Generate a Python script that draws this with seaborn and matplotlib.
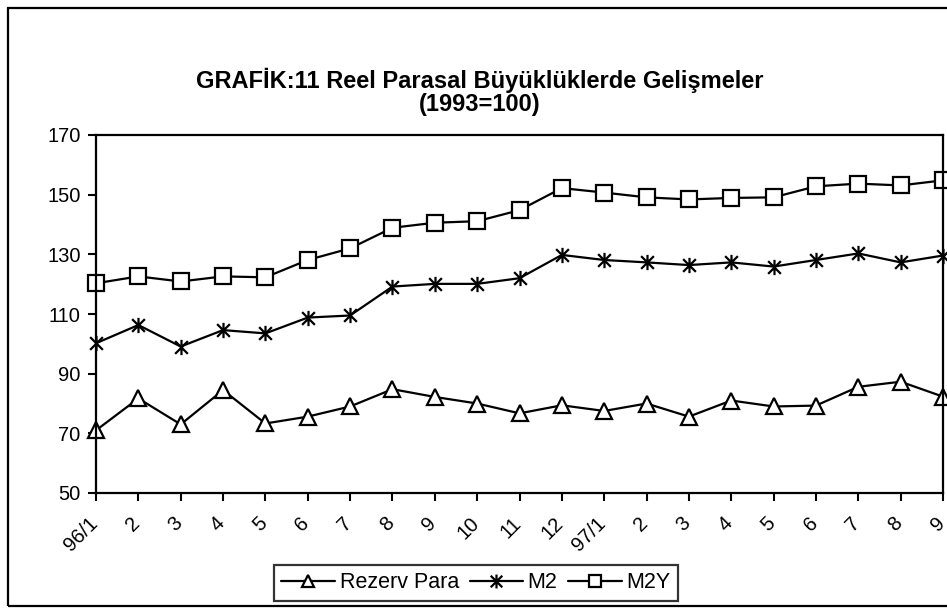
import matplotlib
matplotlib.use('Agg')
import matplotlib.pyplot as plt
import matplotlib.transforms as mtransforms
import seaborn as sns
from matplotlib.path import Path
from matplotlib.lines import Line2D
from matplotlib.patches import Rectangle

sns.set_style('white')
plt.rcParams['font.family'] = ['Liberation Sans', 'DejaVu Sans']
plt.rcParams['text.color'] = 'black'
plt.rcParams['xtick.color'] = 'black'
plt.rcParams['ytick.color'] = 'black'

# data (1993=100)
months = ['96/1', '2', '3', '4', '5', '6', '7', '8', '9', '10', '11', '12',
          '97/1', '2', '3', '4', '5', '6', '7', '8', '9']
rezerv_para = [71.0, 81.7, 73.0, 84.5, 73.3, 75.6, 79.0, 84.8, 82.2, 80.0, 76.7,
               79.4, 77.5, 80.0, 75.6, 81.0, 79.0, 79.3, 85.6, 87.3, 82.3]
m2 = [100.2, 106.3, 99.1, 104.6, 103.5, 108.8, 109.5, 119.2, 120.1, 120.1, 122.0,
      129.8, 128.1, 127.3, 126.4, 127.3, 125.9, 128.1, 130.3, 127.3, 129.6]
m2y = [120.3, 122.6, 120.9, 122.6, 122.3, 128.1, 132.0, 138.9, 140.6, 141.1, 144.8,
       152.2, 150.7, 149.1, 148.4, 148.9, 149.1, 152.8, 153.7, 153.1, 154.8]
xpos = list(range(len(months)))

# asterisk marker like the spreadsheet one
star = Path([(-1, -1), (1, 1), (-1, 1), (1, -1), (0, -1.2), (0, 1.2)],
            [Path.MOVETO, Path.LINETO, Path.MOVETO, Path.LINETO, Path.MOVETO, Path.LINETO])

fig = plt.figure(figsize=(9.47, 6.15), dpi=100)
ax = fig.add_axes([96 / 947, 1 - 493 / 615, (943 - 96) / 947, (493 - 135) / 615])

common = dict(color='black', linewidth=1.6, clip_on=False)
sns.lineplot(x=xpos, y=rezerv_para, ax=ax, marker='^', markersize=12,
             markerfacecolor='white', markeredgecolor='black', markeredgewidth=1.6, **common)
sns.lineplot(x=xpos, y=m2, ax=ax, marker=star, markersize=11,
             markeredgecolor='black', markeredgewidth=1.6, **common)
sns.lineplot(x=xpos, y=m2y, ax=ax, marker='s', markersize=11,
             markerfacecolor='white', markeredgecolor='black', markeredgewidth=1.6, **common)

ax.set_xlim(0, len(months) - 1)
ax.set_ylim(50, 170)
ax.set_yticks(range(50, 171, 20))
ax.set_xticks(xpos)
ax.set_xticklabels(months, rotation=45, ha='right', va='top', rotation_mode='anchor')
ax.tick_params(axis='both', labelsize=14.5, direction='out', length=6, width=1.5,
               color='black', left=True, bottom=True, pad=5)
ax.tick_params(axis='x', pad=9)
shift = mtransforms.ScaledTranslation(-8 / 100, 0, fig.dpi_scale_trans)
for lab in ax.get_xticklabels():
    lab.set_transform(lab.get_transform() + shift)
for s in ax.spines.values():
    s.set_visible(True)
    s.set_color('black')
    s.set_linewidth(1.6)
ax.grid(False)
ax.set_xlabel('')
ax.set_ylabel('')

fig.text(480 / 947, 1 - 80 / 615, 'GRAFİK:11 Reel Parasal Büyüklüklerde Gelişmeler',
         ha='center', va='center', fontsize=17, fontweight='bold')
fig.text(480 / 947, 1 - 105 / 615, '(1993=100)',
         ha='center', va='center', fontsize=17, fontweight='bold')

handles = [
    Line2D([], [], color='black', lw=1.6, marker='^', markersize=9,
           markerfacecolor='white', markeredgewidth=1.6),
    Line2D([], [], color='black', lw=1.6, marker=star, markersize=10, markeredgewidth=1.6),
    Line2D([], [], color='black', lw=1.6, marker='s', markersize=9,
           markerfacecolor='white', markeredgewidth=1.6),
]
leg = ax.legend(handles, ['Rezerv Para', 'M2', 'M2Y'], ncol=3, loc='center',
                bbox_to_anchor=(476 / 947, 1 - 583 / 615), bbox_transform=fig.transFigure,
                fontsize=15.5, frameon=True, fancybox=False, edgecolor='black',
                handlelength=2.5, handletextpad=0.2, columnspacing=0.5,
                borderpad=0.35, borderaxespad=0)
leg.get_frame().set_linewidth(1.6)

# outer chart border
fig.patches.append(Rectangle((8 / 947, 1 - 606 / 615), 1.0, (606 - 8) / 615,
                             transform=fig.transFigure, fill=False,
                             edgecolor='black', linewidth=1.6))

fig.savefig('out.png', dpi=100)
